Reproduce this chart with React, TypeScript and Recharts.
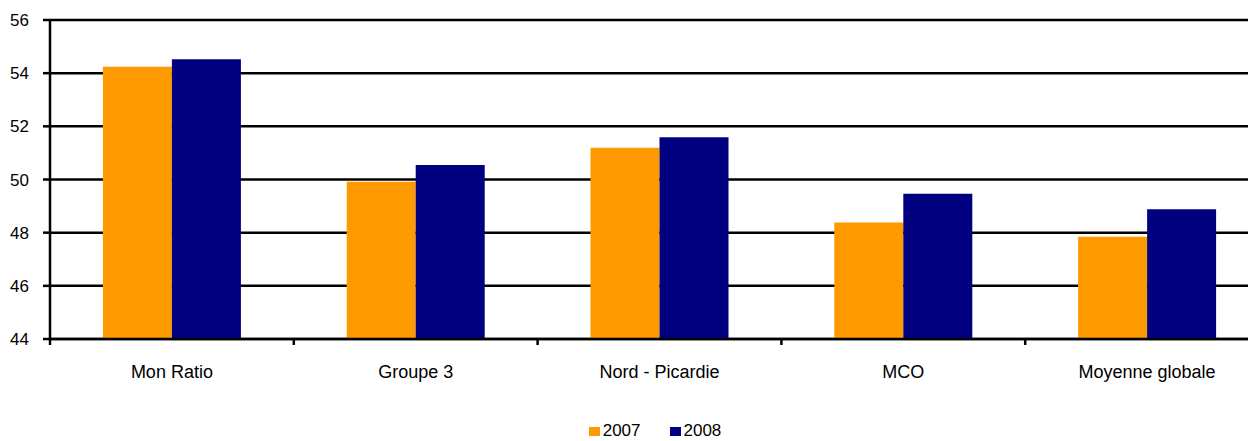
import React from "react";
import { BarChart, Bar, XAxis, YAxis, CartesianGrid, Legend } from "recharts";

const categories = ["Mon Ratio", "Groupe 3", "Nord - Picardie", "MCO", "Moyenne globale"];
const values2007 = [54.24, 49.92, 51.19, 48.38, 47.85];
const values2008 = [54.52, 50.55, 51.59, 49.46, 48.88];
const yTicks = [44, 46, 48, 50, 52, 54, 56];
const seriesNames = ["2007", "2008"];
const seriesColors = ["#FF9900", "#000080"];

const data = categories.map((c, i) => ({
  name: c,
  v2007: values2007[i],
  v2008: values2008[i],
}));

const FONT = "'Liberation Sans', Arial, sans-serif";

const XTick = (props: any) => {
  const { x, y, payload } = props;
  const off = payload && payload.offset != null ? payload.offset : 121.9;
  return (
    <g>
      <line x1={x - off} x2={x - off} y1={y} y2={y + 6} stroke="#000" strokeWidth={2.5} />
      <text x={x} y={y + 39} textAnchor="middle" fontSize={18} fill="#000" fontFamily={FONT}>
        {payload.value}
      </text>
    </g>
  );
};

const LegendContent = () => (
  <div
    style={{
      display: "flex",
      justifyContent: "center",
      paddingLeft: 33,
      height: 20,
      alignItems: "center",
      fontFamily: FONT,
      fontSize: 17,
      color: "#000",
    }}
  >
    {seriesNames.map((n, i) => (
      <div key={n} style={{ display: "flex", alignItems: "center", marginRight: i === 0 ? 29 : 0 }}>
        <span style={{ display: "inline-block", width: 11, height: 9, background: seriesColors[i], marginRight: 3 }} />
        <span>{n}</span>
      </div>
    ))}
  </div>
);

export default function App() {
  return (
    <div style={{ width: 1248, height: 433, overflow: "hidden" }}>
      <BarChart
        width={1262}
        height={433}
        data={data}
        margin={{ top: 12, right: 1, left: 0, bottom: 0 }}
        barCategoryGap="21.7%"
        barGap={0}
      >
        <CartesianGrid vertical={false} stroke="#000" strokeWidth={2.5} />
        <XAxis
          dataKey="name"
          height={82}
          axisLine={{ stroke: "#000", strokeWidth: 2.5 }}
          tickLine={false}
          tickSize={0}
          tickMargin={0}
          interval={0}
          tick={<XTick />}
        />
        <YAxis
          width={42}
          domain={[44, 56]}
          ticks={yTicks}
          allowDataOverflow
          axisLine={{ stroke: "#000", strokeWidth: 2.5 }}
          tickLine={{ stroke: "#000", strokeWidth: 2.5 }}
          tickSize={7}
          tickMargin={14}
          tick={{ fill: "#000", fontSize: 17, fontFamily: FONT }}
        />
        <Legend verticalAlign="bottom" content={<LegendContent />} />
        <Bar dataKey="v2007" name="2007" fill={seriesColors[0]} isAnimationActive={false} />
        <Bar dataKey="v2008" name="2008" fill={seriesColors[1]} isAnimationActive={false} />
      </BarChart>
    </div>
  );
}
